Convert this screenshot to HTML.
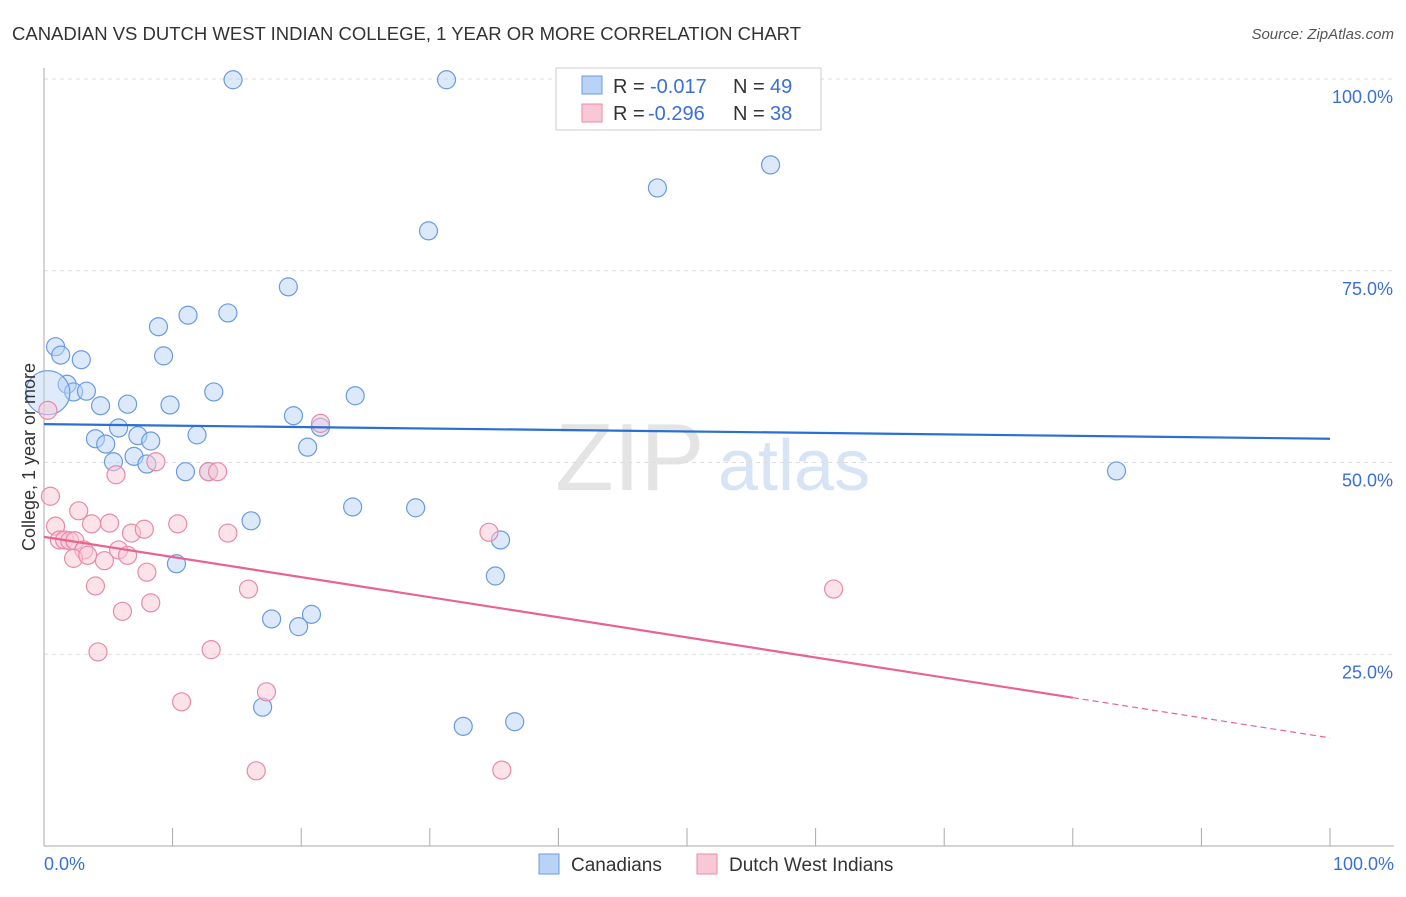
<!DOCTYPE html>
<html><head><meta charset="utf-8"><style>
body{margin:0;background:#fff;font-family:"Liberation Sans",sans-serif;}
svg text{font-family:"Liberation Sans",sans-serif;}
</style></head><body>
<svg id="c" width="1406" height="892">
<text x="12" y="40" font-size="18" fill="#333" textLength="789" lengthAdjust="spacingAndGlyphs">CANADIAN VS DUTCH WEST INDIAN COLLEGE, 1 YEAR OR MORE CORRELATION CHART</text>
<text x="1394" y="39" font-size="15" fill="#555" text-anchor="end" font-style="italic">Source: ZipAtlas.com</text>
<text x="555" y="490" font-size="96" fill="#e4e4e4" font-family="Liberation Serif">ZIP</text>
<text x="718" y="490" font-size="72" fill="#d6e4f5">atlas</text>
<g id="grid"></g>
<g id="marks"></g>
<text transform="translate(35,457) rotate(-90)" font-size="18" fill="#333" text-anchor="middle">College, 1 year or more</text>
<text x="44" y="870" font-size="18" fill="#3a70d6">0.0%</text>
<text x="1394" y="870" font-size="18" fill="#3a70d6" text-anchor="end">100.0%</text>
<g>
<rect x="556" y="68" width="265" height="62" fill="#fff" stroke="#ccc"/>
<rect x="582" y="76" width="20" height="18" fill="#b8d3f5" stroke="#6a9be0"/>
<rect x="582" y="104" width="20" height="18" fill="#f9c8d6" stroke="#e88aa6"/>
<text y="93" font-size="20" fill="#333"><tspan x="613">R =</tspan><tspan x="650" fill="#3a70d6">-0.017</tspan><tspan x="733">N =</tspan><tspan x="770" fill="#3a70d6">49</tspan></text>
<text y="120" font-size="20" fill="#333"><tspan x="613">R =</tspan><tspan x="648" fill="#3a70d6">-0.296</tspan><tspan x="733">N =</tspan><tspan x="770" fill="#3a70d6">38</tspan></text>
</g>
<g>
<rect x="539" y="854" width="20" height="20" fill="#b8d3f5" stroke="#6a9be0"/>
<text x="571" y="871" font-size="19" fill="#333">Canadians</text>
<rect x="697" y="854" width="20" height="20" fill="#f9c8d6" stroke="#e88aa6"/>
<text x="729" y="871" font-size="19" fill="#333">Dutch West Indians</text>
</g>
</svg>
<script>
const yTicks=[25,50,75,100];
const yTickLabels=["25.0%","50.0%","75.0%","100.0%"];
const xTicks=[10,20,30,40,50,60,70,80,90,100];
const blueX=[14.7,31.3,56.5,47.7,29.9,19.0,14.3,11.2,8.9,0.9,1.3,9.3,2.9,1.8,2.3,3.3,13.2,24.2,4.4,6.5,9.8,19.4,21.5,5.8,4.0,7.3,8.3,11.9,4.8,20.5,7.0,5.4,8.0,11.0,12.8,83.4,24.0,28.9,16.1,35.5,10.3,35.1,17.7,20.8,19.8,17.0,32.6,36.6,0.3];
const blueY=[99.9,99.9,88.8,85.8,80.2,72.9,69.5,69.2,67.7,65.1,64.0,63.9,63.4,60.2,59.2,59.3,59.2,58.7,57.4,57.6,57.5,56.1,54.6,54.5,53.1,53.5,52.8,53.6,52.4,52.0,50.8,50.1,49.8,48.8,48.8,48.9,44.2,44.1,42.4,39.9,36.8,35.2,29.6,30.2,28.6,18.1,15.6,16.2,59.1];
const pinkX=[0.3,0.5,0.9,2.7,3.7,5.1,1.2,1.6,2.0,2.4,3.1,2.3,3.4,4.7,5.8,6.5,6.8,7.8,10.4,4.0,6.1,8.3,8.0,4.2,10.7,13.0,17.3,15.9,14.3,16.5,5.6,8.7,12.8,13.5,21.5,34.6,61.4,35.6];
const pinkY=[56.8,45.6,41.7,43.7,42.0,42.1,39.9,39.9,39.8,39.8,38.6,37.5,37.9,37.2,38.6,37.9,40.8,41.3,42.0,33.9,30.6,31.7,35.7,25.3,18.8,25.6,20.1,33.5,40.8,9.8,48.4,50.1,48.8,48.8,55.1,40.9,33.5,9.9];
const blueTrend=[55.0,53.1];
const pinkTrend=[40.3,14.1];
const pinkSolidEnd=80;
const X0=44,X1=1330,Y0=846,Y100=79;
const sx=v=>X0+(X1-X0)*v/100, sy=v=>Y0-(Y0-Y100)*v/100;
const NS="http://www.w3.org/2000/svg";
function mk(t,a,p){const e=document.createElementNS(NS,t);for(const k in a)e.setAttribute(k,a[k]);p.appendChild(e);return e;}
const g=document.getElementById('grid'),m=document.getElementById('marks');
yTicks.forEach((v,i)=>{
 const l=mk('line',{x1:X0,x2:1394,y1:sy(v),y2:sy(v),stroke:'#ddd','stroke-dasharray':'4,4'},g);
 
 
 const t=mk('text',{x:1393,y:sy(v)+24,'font-size':18,fill:'#3a70d6','text-anchor':'end'},g);
 t.textContent=yTickLabels[i];
 
 
});
const ya=mk('line',{x1:X0,x2:X0,y1:68,y2:Y0,stroke:'#aaa'},g);


const xa=mk('line',{x1:X0,x2:1394,y1:Y0,y2:Y0,stroke:'#aaa'},g);


xTicks.forEach(v=>{const l=mk('line',{x1:sx(v),x2:sx(v),y1:828,y2:Y0,stroke:'#aaa'},g);
 
 });
function pts(xs,ys,fill,stroke,name){xs.forEach((x,i)=>{
 const big=(name==='canadian-point'&&i===xs.length-1);
 const c=mk('circle',{cx:sx(x),cy:sy(ys[i]),r:big?22:9,fill:fill,'fill-opacity':big?0.45:0.5,stroke:stroke,'stroke-width':1.2},m);
 
 });}
pts(blueX,blueY,'#b8d3f5','#6a9be0','canadian-point');
pts(pinkX,pinkY,'#f9c8d6','#e88aa6','dutch-west-indian-point');
const bl=mk('line',{x1:sx(0),x2:sx(100),y1:sy(blueTrend[0]),y2:sy(blueTrend[1]),stroke:'#2a6fd4','stroke-width':2.2},m);


const pm=pinkTrend[0]+(pinkTrend[1]-pinkTrend[0])*pinkSolidEnd/100;
const pl=mk('line',{x1:sx(0),x2:sx(pinkSolidEnd),y1:sy(pinkTrend[0]),y2:sy(pm),stroke:'#e8648f','stroke-width':2.2},m);


const pd=mk('line',{x1:sx(pinkSolidEnd),x2:sx(100),y1:sy(pm),y2:sy(pinkTrend[1]),stroke:'#e8648f','stroke-width':1.2,'stroke-dasharray':'6,4'},m);


</script>
</body></html>
